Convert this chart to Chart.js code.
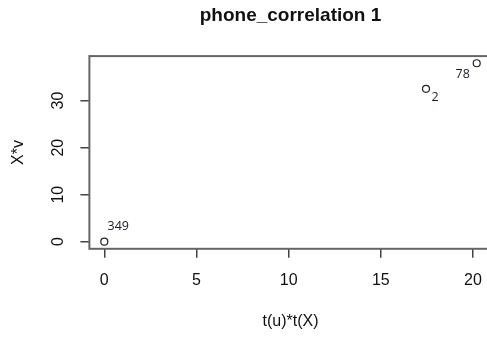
<!DOCTYPE html>
<html>
<head>
<meta charset="utf-8">
<script src="https://cdn.jsdelivr.net/npm/chart.js@4"></script>
<style>
  html, body { margin: 0; padding: 0; background: #fff; overflow: hidden; }
</style>
</head>
<body>
<canvas id="scatter-chart" width="500" height="337"></canvas>
<script>
// data
const xValues = [0, 17.45, 20.2];
const yValues = [0, 32.5, 37.95];
const pointLabels = ["349", "2", "78"];
const xTicks = [0, 5, 10, 15, 20];
const yTicks = [0, 10, 20, 30];

const chartTitle = "phone_correlation 1";
const xTitle = "t(u)*t(X)";
const yTitle = "X*v";

// R style axis limits: data range plus 4% each side
function rRange(vals) {
  const lo = Math.min(...vals), hi = Math.max(...vals);
  const d = (hi - lo) * 0.04;
  return [lo - d, hi + d];
}
const xr = rRange(xValues);
const yr = rRange(yValues);

const points = xValues.map((x, i) => ({ x: x, y: yValues[i] }));

const rPlot = {
  id: 'rPlot',
  afterDraw(chart, args, opts) {
    const ctx = chart.ctx;
    const a = chart.chartArea;
    const xs = chart.scales.x, ys = chart.scales.y;
    ctx.save();

    // box
    ctx.strokeStyle = '#666';
    ctx.lineWidth = 2;
    ctx.strokeRect(a.left, a.top, a.right - a.left, a.bottom - a.top);

    ctx.fillStyle = '#111';
    // main title
    ctx.font = 'bold 19px "Liberation Sans", Arial, sans-serif';
    ctx.textAlign = 'center';
    ctx.textBaseline = 'middle';
    ctx.fillText(chartTitle, (a.left + a.right) / 2, 16);

    // x title
    ctx.font = '16px "Liberation Sans", Arial, sans-serif';
    ctx.fillText(xTitle, (a.left + a.right) / 2, 322);

    // y tick labels, rotated like R
    yTicks.forEach(v => {
      ctx.save();
      ctx.translate(59, ys.getPixelForValue(v));
      ctx.rotate(-Math.PI / 2);
      ctx.fillText(String(v), 0, 0);
      ctx.restore();
    });

    // y title
    ctx.save();
    ctx.translate(19, (a.top + a.bottom) / 2);
    ctx.rotate(-Math.PI / 2);
    ctx.fillText(yTitle, 0, 0);
    ctx.restore();

    // point labels
    ctx.font = '12.5px "Open Sans", sans-serif';
    ctx.fillStyle = '#1a1a2a';
    pointLabels.forEach((t, i) => {
      const off = opts.offsets[i];
      ctx.fillText(t, xs.getPixelForValue(xValues[i]) + off[0], ys.getPixelForValue(yValues[i]) + off[1]);
    });
    ctx.restore();
  }
};

new Chart(document.getElementById("scatter-chart"), {
  type: 'scatter',
  data: {
    datasets: [{
      data: points,
      pointRadius: 3.5,
      pointHoverRadius: 3.5,
      pointBorderWidth: 1.2,
      borderColor: '#222',
      backgroundColor: 'rgba(0,0,0,0)',
      showLine: false
    }]
  },
  options: {
    responsive: false,
    animation: false,
    events: [],
    layout: { padding: { left: 0, right: 8.4, top: 56.1, bottom: 0 } },
    plugins: {
      legend: { display: false },
      title: { display: false },
      tooltip: { enabled: false },
      rPlot: { offsets: [[14, -15], [9, 9], [-14, 11]] }
    },
    scales: {
      x: {
        type: 'linear',
        min: xr[0],
        max: xr[1],
        afterBuildTicks: s => { s.ticks = xTicks.map(v => ({ value: v })); },
        afterFit: s => { s.height = 337 - 248.8; },
        grid: { drawOnChartArea: false, tickLength: 9, color: '#444', lineWidth: 1.5 },
        border: { display: false },
        ticks: {
          padding: 13,
          color: '#111',
          font: { family: '"Liberation Sans", Arial, sans-serif', size: 16 }
        }
      },
      y: {
        type: 'linear',
        min: yr[0],
        max: yr[1],
        afterBuildTicks: s => { s.ticks = yTicks.map(v => ({ value: v })); },
        afterFit: s => { s.width = 89.4; },
        grid: { drawOnChartArea: false, tickLength: 9, color: '#444', lineWidth: 1.5 },
        border: { display: false },
        ticks: { display: false }
      }
    }
  },
  plugins: [rPlot]
});
</script>
</body>
</html>
